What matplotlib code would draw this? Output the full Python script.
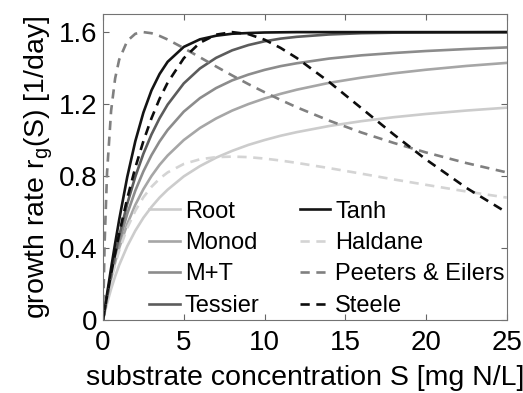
#!/usr/bin/env python

import matplotlib
matplotlib.use('Agg')
import matplotlib.pyplot as plt

plt.rcParams['font.family'] = ['Liberation Sans', 'DejaVu Sans']
plt.rcParams['mathtext.default'] = 'regular'

# substrate concentration S [mg N/L]
S = [0, 0.1, 0.25, 0.5, 0.75, 1, 1.5, 2, 2.5, 3, 3.5, 4, 5, 6, 7, 8, 9,
     10, 11, 12, 14, 16, 18, 20, 22.5, 25]

# growth rates [1/day]
root = [0, 0.038, 0.092, 0.172, 0.242, 0.305, 0.410, 0.496, 0.568, 0.628,
        0.680, 0.724, 0.798, 0.855, 0.902, 0.940, 0.973, 1.000, 1.024,
        1.044, 1.078, 1.105, 1.127, 1.145, 1.164, 1.180]
monod = [0, 0.052, 0.123, 0.229, 0.320, 0.400, 0.533, 0.640, 0.727, 0.800,
         0.862, 0.914, 1.000, 1.067, 1.120, 1.164, 1.200, 1.231, 1.257,
         1.280, 1.318, 1.347, 1.371, 1.391, 1.412, 1.429]
mt = [0, 0.053, 0.128, 0.241, 0.343, 0.434, 0.590, 0.719, 0.826, 0.916,
      0.992, 1.056, 1.158, 1.233, 1.289, 1.332, 1.364, 1.390, 1.411, 1.427,
      1.453, 1.471, 1.484, 1.495, 1.506, 1.515]
tessier = [0, 0.054, 0.132, 0.253, 0.365, 0.467, 0.646, 0.797, 0.924, 1.031,
           1.121, 1.197, 1.315, 1.398, 1.457, 1.499, 1.528, 1.549, 1.564,
           1.574, 1.587, 1.594, 1.597, 1.598, 1.599, 1.600]
tanh = [0, 0.058, 0.145, 0.288, 0.426, 0.557, 0.795, 0.994, 1.153, 1.276,
        1.367, 1.435, 1.518, 1.560, 1.580, 1.591, 1.595, 1.598, 1.599,
        1.600, 1.600, 1.600, 1.600, 1.600, 1.600, 1.600]
haldane = [0, 0.050, 0.118, 0.220, 0.309, 0.385, 0.511, 0.607, 0.682, 0.740,
           0.785, 0.820, 0.867, 0.893, 0.905, 0.908, 0.905, 0.897, 0.886,
           0.873, 0.844, 0.813, 0.781, 0.751, 0.714, 0.680]
peeters = [0, 0.432, 0.820, 1.163, 1.343, 1.447, 1.551, 1.591, 1.600, 1.594,
           1.579, 1.559, 1.511, 1.460, 1.409, 1.359, 1.311, 1.266, 1.223,
           1.182, 1.108, 1.042, 0.984, 0.931, 0.872, 0.820]
steele = [0, 0.054, 0.132, 0.255, 0.371, 0.480, 0.676, 0.847, 0.994, 1.121,
          1.229, 1.319, 1.455, 1.541, 1.586, 1.600, 1.589, 1.558, 1.512,
          1.456, 1.323, 1.177, 1.031, 0.892, 0.734, 0.597]

xticks = [0, 5, 10, 15, 20, 25]
yticks = [0, 0.4, 0.8, 1.2, 1.6]
yticklabels = ['0', '0.4', '0.8', '1.2', '1.6']

figure = plt.figure(figsize=(5.23, 3.93), dpi=100)
ax = figure.add_axes((0.197, 0.186, 0.772, 0.778))

lw = 1.9
ax.plot(S, root, color='0.80', lw=lw, label='Root')
ax.plot(S, monod, color='0.65', lw=lw, label='Monod')
ax.plot(S, mt, color='0.55', lw=lw, label='M+T')
ax.plot(S, tessier, color='0.36', lw=lw, label='Tessier')
ax.plot(S, tanh, color='0.08', lw=lw, label='Tanh')
ax.plot(S, haldane, color='0.83', lw=lw, ls=(0, (3.5, 2.5)), label='Haldane')
ax.plot(S, peeters, color='0.50', lw=lw, ls=(0, (3.5, 2.5)),
        label='Peeters & Eilers')
ax.plot(S, steele, color='0.05', lw=lw, ls=(0, (3.5, 2.5)), label='Steele')

ax.set_xlim(0, 25)
ax.set_ylim(0, 1.7)
ax.set_xticks(xticks)
ax.set_yticks(yticks)
ax.set_yticklabels(yticklabels)
ax.tick_params(direction='in', top=True, right=True, labelsize=20,
               length=4, color='0.4', pad=4)
ax.tick_params(axis='x', pad=7)
for sp in ax.spines.values():
    sp.set_color('0.45')
    sp.set_linewidth(0.8)

ax.set_xlabel('substrate concentration S [mg N/L]', fontsize=20.5, labelpad=7)
ax.set_ylabel('growth rate r$_g$(S) [1/day]', fontsize=20.5, labelpad=3)

ax.legend(ncol=2, frameon=False, fontsize=17, loc='lower left',
          bbox_to_anchor=(0.115, 0.01), borderpad=0, handlelength=1.3,
          handletextpad=0.2, columnspacing=1.7, labelspacing=0.4,
          borderaxespad=0)

figure.savefig('out.png', dpi=100)
